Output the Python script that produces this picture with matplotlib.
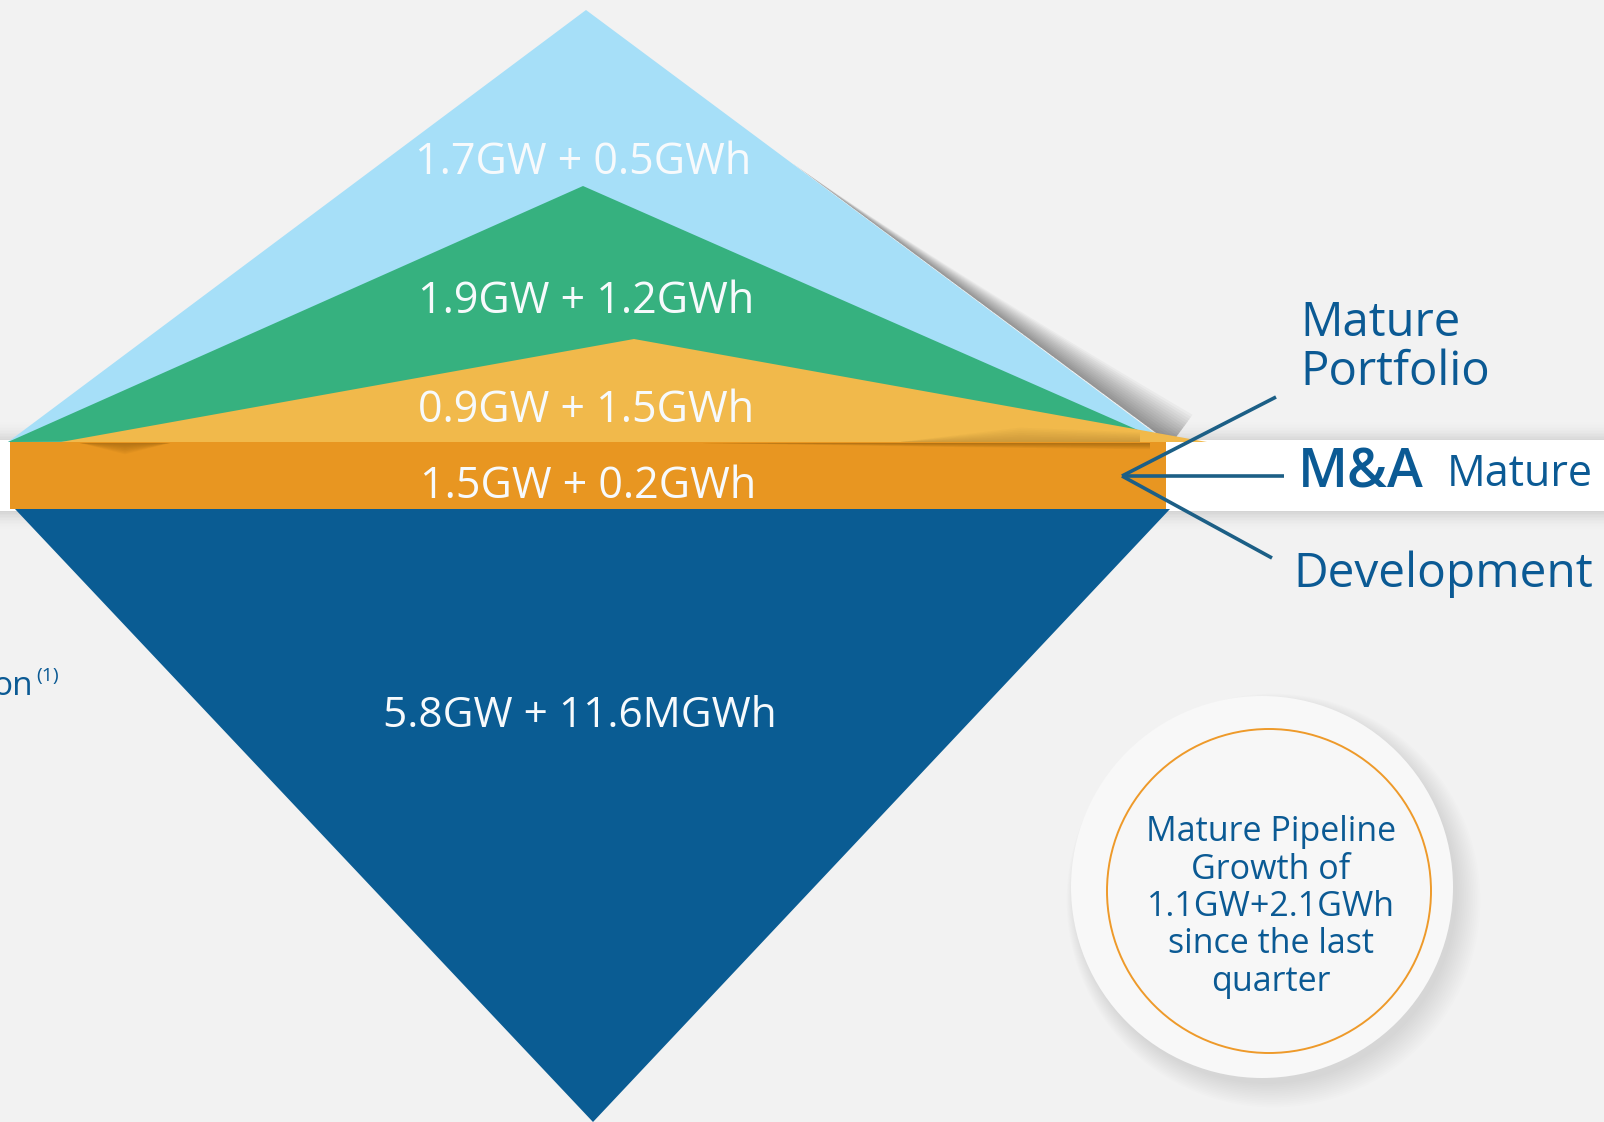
import matplotlib
matplotlib.use("Agg")
import matplotlib.pyplot as plt
import numpy as np
from matplotlib.patches import Polygon, Rectangle, Circle

plt.rcParams['font.family'] = ['Open Sans', 'DejaVu Sans']

# ---- data (infographic layers, top to bottom) ----
layer_names = ["Mature Portfolio (upper)", "Mature Portfolio (middle)", "Mature Portfolio (lower)",
               "M&A Mature", "Development"]
layer_labels = ["1.7GW + 0.5GWh", "1.9GW + 1.2GWh", "0.9GW + 1.5GWh",
                "1.5GW + 0.2GWh", "5.8GW + 11.6MGWh"]
layer_colors = ["#A6DFF8", "#36B17F", "#F1B94B", "#E89621", "#0A5C93"]

side_labels = ["Mature\nPortfolio", "M&A", "Mature", "Development"]
callout_text = "Mature Pipeline\nGrowth of\n1.1GW+2.1GWh\nsince the last\nquarter"
footnote_text = "on"
footnote_sup = "(1)"

TEXT_BLUE = "#0B5A94"
BG = "#F2F2F2"

# ---- geometry of the shapes (pixel space) ----
tri_blue = [(8, 442), (586, 10), (1161, 438)]
tri_green = [(8, 442), (583, 186), (1156, 438)]
tri_yellow = [(61, 442), (634, 339), (1207, 442)]
band = (10, 442, 1156, 67)          # x, y, w, h
tri_dev = [(15, 509), (1170, 509), (593, 1122)]
label_pos = [(583, 163), (586, 302), (586, 411), (588, 487), (580, 716)]

fig = plt.figure(figsize=(16.04, 11.22), dpi=100)
fig.patch.set_facecolor(BG)
ax = fig.add_axes([0, 0, 1, 1])
ax.set_xlim(0, 1604)
ax.set_ylim(1122, 0)
ax.axis("off")
ax.set_facecolor(BG)

# soft shadow outside the right edge of the upper triangle
apex = np.array(tri_blue[1], float)
base_r = np.array(tri_blue[2], float) + np.array([10, 6])
edge = base_r - apex
nrm = np.array([edge[1], -edge[0]]) / np.hypot(*edge)
ts = np.linspace(0.35, 1.0, 40)
for k in range(1, 15):
    wb = 2.6 * k
    inner = [apex + t * edge for t in ts]
    outer = [apex + t * edge + nrm * wb * ((t - 0.35) / 0.65) ** 1.4 for t in ts[::-1]]
    ax.add_patch(Polygon(inner + outer, closed=True, color="black", alpha=0.03,
                         lw=0, zorder=1.5))

# white strip behind band with soft shadows
for i in range(14):
    a = 0.016 * (14 - i) / 14
    ax.add_patch(Rectangle((0, 440 - i * 1.5), 1604, 72 + i * 3.0, color="black",
                           alpha=a, lw=0, zorder=1))
ax.add_patch(Rectangle((0, 440), 1604, 71, color="white", lw=0, zorder=2))

ax.add_patch(Polygon(tri_blue, closed=True, color=layer_colors[0], lw=0, zorder=4))
ax.add_patch(Polygon(tri_green, closed=True, color=layer_colors[1], lw=0, zorder=5))
ax.add_patch(Polygon(tri_yellow, closed=True, color=layer_colors[2], lw=0, zorder=6))

# band
bx, by, bw, bh = band
ax.add_patch(Rectangle((bx, by), bw, bh, color=layer_colors[3], lw=0, zorder=7))

# dark fold shadows along the top of the band
for k in range(1, 9):
    ax.add_patch(Polygon([(900, 442), (1140, 442), (1140, 442 - 1.2 * k), (1020, 442 - 1.8 * k)],
                         closed=True, color="#3a2400", alpha=0.025, lw=0, zorder=6.5))
    ax.add_patch(Polygon([(700, 443), (1150, 443), (1150, 443 + 0.8 * k), (950, 443 + 0.5 * k)],
                         closed=True, color="#3a2400", alpha=0.045, lw=0, zorder=7.5))
    ax.add_patch(Polygon([(80, 443), (170, 443), (125, 443 + 1.4 * k)],
                         closed=True, color="#3a2400", alpha=0.04, lw=0, zorder=7.5))

ax.add_patch(Polygon(tri_dev, closed=True, color=layer_colors[4], lw=0, zorder=7))

for i, ((x, y), t) in enumerate(zip(label_pos, layer_labels)):
    ax.text(x, y, t, color="#F7FAFC", fontsize=31 if i < 4 else 30.5,
            ha="center", va="center", zorder=10)

# connectors
hub = (1122, 476)
for end in [(1276, 397), (1284, 476), (1272, 558)]:
    ax.plot([hub[0], end[0]], [hub[1], end[1]], color="#1C5F86", lw=2.6,
            solid_capstyle="butt", zorder=11)

ax.text(1300, 348, side_labels[0], color=TEXT_BLUE, fontsize=34, ha="left", va="center",
        linespacing=1.05, zorder=12)
ax.text(1298, 473, side_labels[1], color=TEXT_BLUE, fontsize=39, fontweight="semibold",
        ha="left", va="center", zorder=12)
ax.text(1447, 475, side_labels[2], color=TEXT_BLUE, fontsize=31, ha="left", va="center",
        zorder=12)
ax.text(1293, 574, side_labels[3], color=TEXT_BLUE, fontsize=34.5, ha="left", va="center",
        zorder=12)

# callout circle
cc = (1269, 891)
for i in range(14):
    ax.add_patch(Circle((1264 + 3 + i * 0.5, 889 + 5 + i * 0.5), 190 + i * 1.3,
                        color="black", alpha=0.006, lw=0, zorder=2))
ax.add_patch(Circle((1262, 887), 191, color="#F8F8F8", lw=0, zorder=3))
ax.add_patch(Circle(cc, 162, facecolor="#F7F7F7", edgecolor="#EE9A2A", lw=1.4, zorder=4))
ax.text(cc[0] + 2, 907, callout_text, color=TEXT_BLUE, fontsize=24.5, ha="center",
        va="center", linespacing=1.13, zorder=12)

# left footnote fragment
ax.text(-8, 686, footnote_text, color=TEXT_BLUE, fontsize=24, ha="left", va="center",
        zorder=12)
ax.text(36, 676, footnote_sup, color=TEXT_BLUE, fontsize=14, ha="left", va="center",
        zorder=12)

fig.savefig("out.png", dpi=100, facecolor=BG)
